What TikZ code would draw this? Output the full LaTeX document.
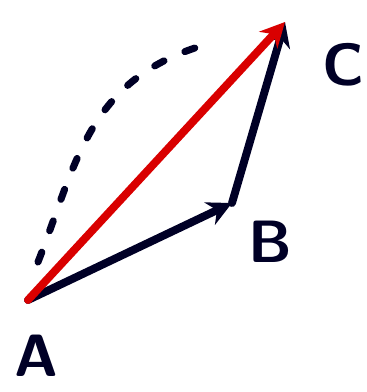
\documentclass[tikz,border=0pt]{standalone}
\usepackage{tikz}
\usetikzlibrary{arrows.meta,positioning}

\tikzset{
  vec/.style={line width=4.5pt,line cap=round,-{Stealth[length=14pt,width=14pt]}},
  lab/.style={font=\fontsize{34}{38}\selectfont\sffamily\bfseries,text=black!85!blue}
}

\begin{document}
\begin{tikzpicture}[x=0.02cm,y=-0.02cm]
\useasboundingbox (0,0) rectangle (367,392);
\coordinate (A) at (28,300);
\coordinate (B) at (232,203);
\coordinate (C) at (285,22);
\draw[vec,black!85!blue] (A)--(B);
\draw[vec,black!85!blue] (B)--(C);
\draw[vec,red!85!black] (A)--(C);
% dashed completion of the parallelogram
\draw[line width=4pt,line cap=round,dash pattern=on 6pt off 13pt,black!85!blue]
  (38,262) .. controls (78,160) and (88,75) .. (215,42);
\node[lab] (labA) at (36,356) {A};
\node[lab] (labB) at (270,242) {B};
\node[lab] (labC) at (343,65) {C};
\end{tikzpicture}
\end{document}
